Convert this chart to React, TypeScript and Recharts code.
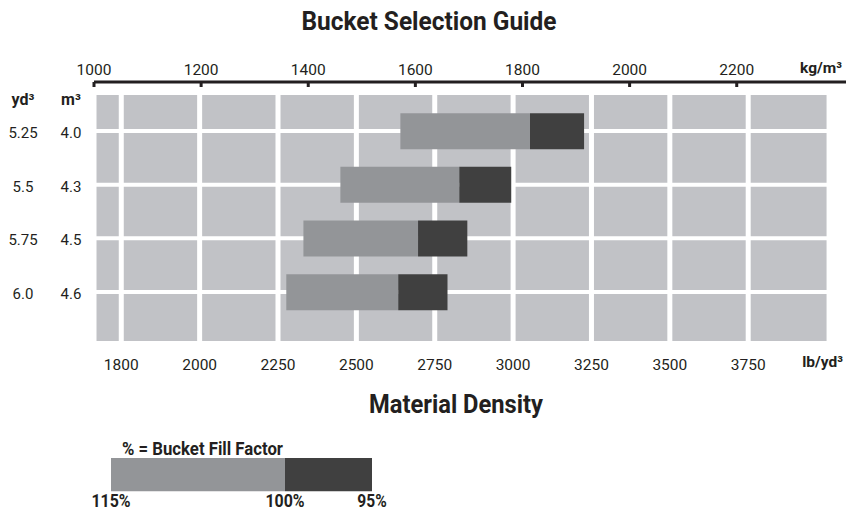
import React from 'react';
import { BarChart, Bar, XAxis, YAxis, CartesianGrid, ReferenceArea } from 'recharts';

// ---------- data ----------
const rows = [1, 2, 3, 4];
const ydLabels = ['5.25', '5.5', '5.75', '6.0'];
const m3Labels = ['4.0', '4.3', '4.5', '4.6'];
// material density (kg/m³) handled at 115 %, 100 % and 95 % bucket fill factor
const density115 = [1572, 1460, 1391, 1359];
const density100 = [1814, 1682, 1605, 1568];
const density95 = [1915, 1779, 1697, 1660];

const kgTicks = [1000, 1200, 1400, 1600, 1800, 2000, 2200];
const lbTicks = [1750, 2000, 2250, 2500, 2750, 3000, 3250, 3500, 3750];
const lbTickLabels = ['1800', '2000', '2250', '2500', '2750', '3000', '3250', '3500', '3750'];
const kgDomain = [1000, 2404];
const lbDomain = [1663, 4062];
const lbPanelEnd = 4000;
const rowDomain = [0.087, 4.95];
const rowPanelStart = 0.329;

const fillLabels = ['115%', '100%', '95%'];
const fillTicks = [0, 2, 3];
const legendLight = [2];
const legendDark = [1];

// ---------- styles ----------
const FONT = "Roboto, 'Liberation Sans', Arial, sans-serif";
const INK = '#231f20';
const PANEL = '#c1c2c6';
const LIGHT = '#939598';
const DARK = '#404040';

const data = rows.map((row, i) => ({
  row,
  offset: density115[i],
  light: density100[i] - density115[i],
  dark: density95[i] - density100[i],
}));

const legendData = [{ name: 'fill', light: legendLight[0], dark: legendDark[0] }];

const KgTick = (props: any) => {
  const { x, y, payload } = props;
  return (
    <g>
      <line x1={x} x2={x} y1={y} y2={y + 5} stroke={INK} strokeWidth={3} />
      <text x={x} y={y - 7} textAnchor="middle" fontSize={15.5} fill={INK} fontFamily={FONT}>
        {payload.value}
      </text>
    </g>
  );
};

const LbTick = (props: any) => {
  const { x, y, payload } = props;
  const idx = lbTicks.indexOf(payload.value);
  return (
    <text x={x} y={y + 27} textAnchor="middle" fontSize={15.5} fill={INK} fontFamily={FONT}>
      {lbTickLabels[idx]}
    </text>
  );
};

const RowTick = (props: any) => {
  const { x, y, payload } = props;
  const idx = rows.indexOf(payload.value);
  return (
    <g>
      <text x={x - 71} y={y + 7} textAnchor="middle" fontSize={15} fill={INK} fontFamily={FONT}>
        {ydLabels[idx]}
      </text>
      <text x={x - 23} y={y + 7} textAnchor="middle" fontSize={15} fill={INK} fontFamily={FONT}>
        {m3Labels[idx]}
      </text>
    </g>
  );
};

const FillTick = (props: any) => {
  const { x, y, payload } = props;
  const idx = fillTicks.indexOf(payload.value);
  const label = fillLabels[idx];
  return (
    <text
      x={x}
      y={y + 14}
      textAnchor="middle"
      fontSize={18}
      fontWeight="bold"
      fill={INK}
      fontFamily={FONT}
      textLength={label.length * 9.8}
      lengthAdjust="spacingAndGlyphs"
    >
      {label}
    </text>
  );
};

export default function App() {
  return (
    <div style={{ position: 'absolute', left: 0, top: 0, width: 846, height: 512, background: '#fff', overflow: 'hidden' }}>
      <div style={{ position: 'absolute', left: 0, top: 0 }}>
        <BarChart
          width={846}
          height={380}
          data={data}
          layout="vertical"
          margin={{ top: 52, right: 0, bottom: 0, left: 0 }}
          barSize={36}
        >
          <ReferenceArea
            xAxisId="lb"
            x1={lbDomain[0]}
            x2={lbPanelEnd}
            y1={rowPanelStart}
            y2={rowDomain[1]}
            fill={PANEL}
            fillOpacity={1}
            stroke="none"
            ifOverflow="visible"
            {...({ zIndex: -200 } as any)}
          />
          <CartesianGrid xAxisId="lb" horizontal={false} stroke="#ffffff" strokeWidth={5} />
          <CartesianGrid xAxisId="lb" vertical={false} stroke="#ffffff" strokeWidth={4} />
          <XAxis
            xAxisId="kg"
            orientation="top"
            type="number"
            domain={kgDomain}
            ticks={kgTicks}
            interval={0}
            height={30}
            allowDataOverflow
            tickSize={0}
            tickMargin={0}
            tickLine={false}
            axisLine={{ stroke: INK, strokeWidth: 3 }}
            tick={<KgTick />}
          />
          <XAxis
            xAxisId="lb"
            orientation="bottom"
            type="number"
            domain={lbDomain}
            ticks={lbTicks}
            interval={0}
            height={37}
            allowDataOverflow
            tickSize={0}
            tickMargin={0}
            tickLine={false}
            axisLine={false}
            tick={<LbTick />}
          />
          <YAxis
            type="number"
            dataKey="row"
            domain={rowDomain}
            ticks={rows}
            interval={0}
            width={94}
            allowDataOverflow
            tickSize={0}
            tickMargin={0}
            tickLine={false}
            axisLine={false}
            tick={<RowTick />}
          />
          <Bar xAxisId="kg" dataKey="offset" stackId="s" fill="transparent" isAnimationActive={false} />
          <Bar xAxisId="kg" dataKey="light" stackId="s" fill={LIGHT} isAnimationActive={false} />
          <Bar xAxisId="kg" dataKey="dark" stackId="s" fill={DARK} isAnimationActive={false} />
        </BarChart>
      </div>
      <div style={{ position: 'absolute', left: 0, top: 430 }}>
        <BarChart
          width={846}
          height={82}
          data={legendData}
          layout="vertical"
          margin={{ top: 26, right: 474, bottom: 0, left: 111 }}
          barSize={37}
        >
          <XAxis
            type="number"
            domain={[0, 3]}
            ticks={fillTicks}
            interval={0}
            height={19}
            tickSize={0}
            tickMargin={0}
            tickLine={false}
            axisLine={false}
            tick={<FillTick />}
          />
          <YAxis type="category" dataKey="name" hide />
          <Bar dataKey="light" stackId="l" fill={LIGHT} isAnimationActive={false} />
          <Bar dataKey="dark" stackId="l" fill={DARK} isAnimationActive={false} />
        </BarChart>
      </div>
      <svg
        width={846}
        height={512}
        style={{ position: 'absolute', left: 0, top: 0, pointerEvents: 'none' }}
        fontFamily={FONT}
        fill={INK}
      >
        <text x={429} y={30} textAnchor="middle" fontSize={25} fontWeight="bold" textLength={255} lengthAdjust="spacingAndGlyphs">
          Bucket Selection Guide
        </text>
        <text x={456} y={413} textAnchor="middle" fontSize={25.5} fontWeight="bold" textLength={174} lengthAdjust="spacingAndGlyphs">
          Material Density
        </text>
        <text x={23} y={105} textAnchor="middle" fontSize={16} fontWeight="bold">yd³</text>
        <text x={71} y={105} textAnchor="middle" fontSize={16} fontWeight="bold">m³</text>
        <text x={842} y={73} textAnchor="end" fontSize={15.5} fontWeight="bold">kg/m³</text>
        <text x={843} y={367} textAnchor="end" fontSize={15.5} fontWeight="bold">lb/yd³</text>
        <text x={122} y={455} textAnchor="start" fontSize={19} fontWeight="bold" textLength={161} lengthAdjust="spacingAndGlyphs">
          % = Bucket Fill Factor
        </text>
      </svg>
    </div>
  );
}
